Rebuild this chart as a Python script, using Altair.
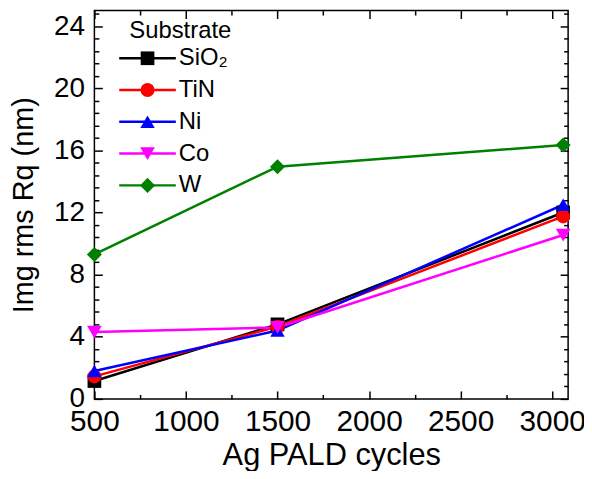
import altair as alt
import pandas as pd

# ---- data ----
cycles = [500, 1500, 3060]
substrates = ["SiO₂", "TiN", "Ni", "Co", "W"]
sio2 = [1.15, 4.8, 12.0]
tin = [1.45, 4.65, 11.75]
ni = [1.8, 4.4, 12.5]
co = [4.3, 4.6, 10.55]
w = [9.3, 14.95, 16.35]

colors = ["#000000", "#FF0000", "#0000FF", "#FF00FF", "#008000"]
shapes = ["square", "circle", "triangle-up", "triangle-down", "diamond"]
sizes = [190, 230, 260, 260, 270]

x_labels = [500, 1000, 1500, 2000, 2500, 3000]
x_ticks = [500, 750, 1000, 1250, 1500, 1750, 2000, 2250, 2500, 2750, 3000]
y_labels = [0, 4, 8, 12, 16, 20, 24]
y_ticks = [0, 0.8, 1.6, 2.4, 3.2, 4, 4.8, 5.6, 6.4, 7.2, 8, 8.8, 9.6, 10.4,
           11.2, 12, 12.8, 13.6, 14.4, 15.2, 16, 16.8, 17.6, 18.4, 19.2, 20,
           20.8, 21.6, 22.4, 23.2, 24, 24.8]
legend_title = ["Substrate"]

series = [sio2, tin, ni, co, w]
rows = []
for i, (name, vals) in enumerate(zip(substrates, series)):
    for c, v in zip(cycles, vals):
        rows.append({"substrate": name, "cycles": c, "rq": v, "idx": i})
df = pd.DataFrame(rows)
legend_df = pd.DataFrame({"substrate": substrates, "idx": list(range(len(substrates)))})
title_df = pd.DataFrame({"t": legend_title})

W, H = 477, 391
FONT = "Liberation Sans"

x_scale = alt.Scale(domain=[500, 3087], nice=False, zero=False)
y_scale = alt.Scale(domain=[0, 25], nice=False, zero=True)
color = alt.Color("substrate:N", scale=alt.Scale(domain=substrates, range=colors), legend=None)
shape = alt.Shape("substrate:N", scale=alt.Scale(domain=substrates, range=shapes), legend=None)
size = alt.Size("substrate:N", scale=alt.Scale(domain=substrates, range=sizes), legend=None)

x_major = "abs(datum.value % 500) < 0.01"
y_major = "abs(datum.value % 4) < 0.01 || abs(datum.value % 4 - 4) < 0.01"


def tick_axis(orient, offset, values, test):
    return alt.Axis(orient=orient, offset=offset, values=values, labels=False,
                    title=None, domain=False, grid=False, tickColor="black",
                    tickWidth=1.5,
                    tickSize={"condition": {"test": test, "value": 8}, "value": 4.5})


base = alt.Chart(df)

lines = base.mark_line(strokeWidth=2.5).encode(
    x=alt.X("cycles:Q", scale=x_scale,
            axis=alt.Axis(orient="bottom", values=x_labels, ticks=False, domain=False,
                          grid=False, labelFontSize=30, labelPadding=8, labelColor="black",
                          labelFlush=False, labelOverlap=False, format="d",
                          title="Ag PALD cycles", titleFontSize=31, titleFontWeight="normal",
                          titleColor="black", titlePadding=4)),
    y=alt.Y("rq:Q", scale=y_scale,
            axis=alt.Axis(orient="left", values=y_labels, ticks=False, domain=False,
                          grid=False, labelFontSize=28, labelPadding=10, labelColor="black",
                          labelFlush=False, labelOverlap=False,
                          title="Img rms Rq (nm)", titleFontSize=29, titleFontWeight="normal",
                          titleColor="black", titlePadding=15)),
    color=color,
    order=alt.Order("cycles:Q"),
)

points = base.mark_point(filled=True, opacity=1, strokeWidth=1).encode(
    x=alt.X("cycles:Q", axis=tick_axis("top", -H, x_ticks, x_major)),
    y=alt.Y("rq:Q", axis=tick_axis("right", -W, y_ticks, y_major)),
    color=color, shape=shape, size=size,
    order=alt.Order("idx:Q"),
)

frame = base.mark_point(opacity=0).encode(
    x=alt.X("cycles:Q", axis=tick_axis("bottom", -H, x_ticks, x_major)),
    y=alt.Y("rq:Q", axis=tick_axis("left", -W, y_ticks, y_major)),
)

main = alt.layer(lines, points, frame).resolve_axis(x="independent", y="independent")

# ---- legend drawn inside the plot (top-left) ----
leg_y = alt.Y("idx:O", scale=alt.Scale(type="point", domain=list(range(len(substrates))),
                                       range=[48, 176], padding=0), axis=None)
leg_base = alt.Chart(legend_df)
leg_rules = leg_base.mark_rule(strokeWidth=2.5).encode(
    x=alt.value(25), x2=alt.value(82), y=leg_y, color=color)
leg_points = leg_base.mark_point(filled=True, opacity=1, strokeWidth=1).encode(
    x=alt.value(53.5), y=leg_y, color=color, shape=shape, size=size)
leg_labels = leg_base.mark_text(align="left", baseline="middle", fontSize=24,
                                color="black", font=FONT).encode(
    x=alt.value(85), y=leg_y, text="substrate:N")
leg_title = alt.Chart(title_df).mark_text(align="center", baseline="alphabetic",
                                          fontSize=24, color="black", font=FONT).encode(
    x=alt.value(86.5), y=alt.value(27.5), text="t:N")

legend = alt.layer(leg_rules, leg_points, leg_labels, leg_title)

chart = alt.layer(main, legend).resolve_scale(
    y="independent"
).properties(
    autosize=alt.AutoSizeParams(type="none"),
    padding={"left": 87, "top": 1, "right": 16, "bottom": 71},
).configure(
    font=FONT,
).configure_view(
    stroke="black", strokeWidth=1.5, continuousWidth=W, continuousHeight=H,
    discreteWidth=W, discreteHeight=H,
)

chart.save("out.html", embed_options={"renderer": "svg", "actions": False})
